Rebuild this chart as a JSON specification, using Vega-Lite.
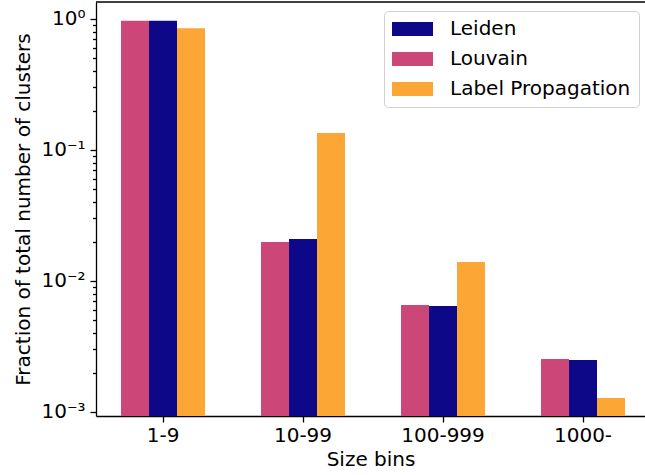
{
  "$schema": "https://vega.github.io/schema/vega-lite/v6.json",
  "width": 549,
  "height": 414,
  "autosize": {"type": "none"},
  "padding": {"left": 96, "top": 2, "right": 0, "bottom": 59},
  "config": {
    "font": "DejaVu Sans",
    "view": {"stroke": null},
    "axis": {
      "labelFontSize": 20,
      "titleFontSize": 20,
      "titleFontWeight": "normal",
      "labelColor": "black",
      "titleColor": "black",
      "domainColor": "black",
      "domainWidth": 1.3,
      "tickColor": "black",
      "tickWidth": 1.3,
      "grid": false
    }
  },
  "data": {
    "values": [
      {"bin": "1-9", "method": "Louvain", "fraction": 0.971},
      {"bin": "1-9", "method": "Leiden", "fraction": 0.970},
      {"bin": "1-9", "method": "Label Propagation", "fraction": 0.8498},
      {"bin": "10-99", "method": "Louvain", "fraction": 0.01986},
      {"bin": "10-99", "method": "Leiden", "fraction": 0.0209},
      {"bin": "10-99", "method": "Label Propagation", "fraction": 0.1349},
      {"bin": "100-999", "method": "Louvain", "fraction": 0.00656},
      {"bin": "100-999", "method": "Leiden", "fraction": 0.00644},
      {"bin": "100-999", "method": "Label Propagation", "fraction": 0.01396},
      {"bin": "1000-", "method": "Louvain", "fraction": 0.00254},
      {"bin": "1000-", "method": "Leiden", "fraction": 0.00249},
      {"bin": "1000-", "method": "Label Propagation", "fraction": 0.00128}
    ]
  },
  "layer": [
    {
      "mark": {"type": "bar"},
      "encoding": {
        "x": {
          "field": "bin",
          "type": "nominal",
          "sort": ["1-9", "10-99", "100-999", "1000-"],
          "scale": {"paddingInner": 0.4, "paddingOuter": 0.1607, "align": 0.556},
          "axis": {
            "title": "Size bins",
            "labelAngle": 0,
            "tickSize": 6,
            "labelPadding": 3,
            "titlePadding": 4
          }
        },
        "xOffset": {
          "field": "method",
          "type": "nominal",
          "sort": ["Louvain", "Leiden", "Label Propagation"]
        },
        "y": {
          "field": "fraction",
          "type": "quantitative",
          "stack": null,
          "scale": {"type": "log", "domain": [0.000932, 1.348], "nice": false},
          "axis": {
            "title": "Fraction of total number of clusters",
            "values": [0.001, 0.002, 0.003, 0.004, 0.005, 0.006, 0.007, 0.008, 0.009,
                       0.01, 0.02, 0.03, 0.04, 0.05, 0.06, 0.07, 0.08, 0.09,
                       0.1, 0.2, 0.3, 0.4, 0.5, 0.6, 0.7, 0.8, 0.9, 1],
            "labelExpr": "datum.value == 1 ? '10⁰' : datum.value == 0.1 ? '10⁻¹' : datum.value == 0.01 ? '10⁻²' : datum.value == 0.001 ? '10⁻³' : ''",
            "labelOverlap": false,
            "labelBound": false,
            "labelPadding": 5,
            "titlePadding": 7,
            "tickSize": {
              "condition": {"test": "indexof([1, 0.1, 0.01, 0.001], datum.value) >= 0", "value": 6},
              "value": 3.5
            }
          }
        },
        "color": {
          "field": "method",
          "type": "nominal",
          "scale": {
            "domain": ["Leiden", "Louvain", "Label Propagation"],
            "range": ["#0d0887", "#cc4778", "#fca636"]
          },
          "legend": {
            "title": null,
            "orient": "none",
            "legendX": 288,
            "legendY": 9,
            "padding": 8,
            "rowPadding": 10,
            "symbolType": "M-1,-0.7 L3.1,-0.7 L3.1,0.7 L-1,0.7 Z",
            "symbolSize": 400,
            "symbolStrokeWidth": 0,
            "symbolOpacity": 1,
            "labelFontSize": 20,
            "labelColor": "black",
            "labelOffset": 38,
            "labelLimit": 400,
            "strokeColor": "#d0d0d0",
            "fillColor": "rgba(255,255,255,0.8)",
            "cornerRadius": 4
          }
        }
      }
    },
    {
      "data": {"values": [{}]},
      "mark": {"type": "rule", "color": "black", "strokeWidth": 1.3},
      "encoding": {"y": {"datum": 1.348}}
    }
  ]
}
